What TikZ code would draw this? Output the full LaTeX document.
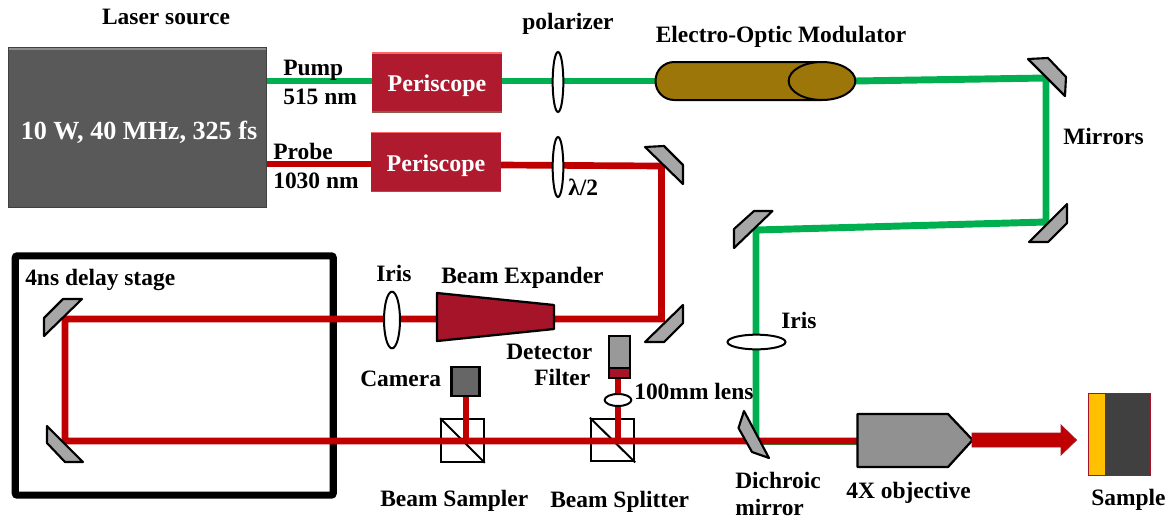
\documentclass[tikz,border=0pt]{standalone}
\usepackage{fontspec}
\setmainfont{Liberation Serif}
\definecolor{beamred}{HTML}{C00000}
\definecolor{beamgreen}{HTML}{00B050}
\definecolor{darkred}{HTML}{A61429}
\definecolor{periscopered}{HTML}{B01A2F}
\definecolor{laserfill}{HTML}{595959}
\definecolor{eomfill}{HTML}{9C7609}
\definecolor{mirrorfill}{HTML}{A6A6A6}
\definecolor{sampleorange}{HTML}{FFC000}
\definecolor{periscopeedge}{HTML}{8F5A4A}
\tikzset{
  lbl/.style={inner sep=0pt,font=\fontsize{17.6}{20}\bfseries\selectfont,anchor=mid,yshift=-4pt},
  lblw/.style={lbl,anchor=mid west},
  redbeam/.style={draw=beamred,line width=5pt,line join=miter},
  greenbeam/.style={draw=beamgreen,line width=5.2pt,line join=miter},
  mirrorshape/.style={draw=black,fill=mirrorfill,line width=1.6pt,line join=round},
  lens/.style={draw=black,fill=white,line width=1.5pt,ellipse,inner sep=0pt},
  cube/.style={draw=black,line width=1.5pt},
  periscopebox/.style={draw=none,fill=periscopered,inner sep=0pt,text=white,
     minimum width=97.5pt,minimum height=44pt,text height=16pt,text depth=2pt,
     font=\fontsize{18}{20}\bfseries\selectfont},
}
\usetikzlibrary{shapes.geometric}
\begin{document}
\begin{tikzpicture}[x=0.75pt,y=-0.75pt]
\useasboundingbox (0,0) rectangle (1172,519);
% coordinates for beams
\coordinate (pumpout) at (267,81);
\coordinate (pumpin) at (372,81);
\coordinate (pumpa) at (502,81);
\coordinate (eomin) at (657,81);
\coordinate (eomout) at (855,81);
\coordinate (mtr) at (1046,78);
\coordinate (mbr) at (1046,222);
\coordinate (mbl) at (756,230);
\coordinate (dich) at (756,441);
\coordinate (objin) at (857.5,441);
\coordinate (probeout) at (267,164);
\coordinate (probein) at (371,164);
\coordinate (probea) at (501,165);
\coordinate (mpt) at (661.5,166);
\coordinate (mpb) at (661.5,319);
\coordinate (dt) at (65,319);
\coordinate (db) at (65,441);
\coordinate (camb) at (466,441);
\coordinate (detb) at (618,441);
% delay stage
\node[draw=black,line width=5.3pt,rounded corners=1.5pt,minimum width=238.5pt,minimum height=179.5pt,inner sep=0pt] (delay) at (174.25,375.5) {};
% beams
\draw[greenbeam] (pumpout) -- (pumpin);
\draw[greenbeam] (pumpa) -- (eomin);
\draw[greenbeam] (eomout) -- (mtr) -- (mbr) -- (mbl) -- (dich);
\draw[draw=beamgreen,line width=0.9pt] (dich |- 0,444.5) -- (objin |- 0,444.5);
\draw[redbeam] (probeout) -- (probein);
% cubes
\node[cube,minimum width=32pt,minimum height=32pt,inner sep=0pt] (cubea) at (462.5,440.5) {};
\draw[cube] (cubea.north west) -- (cubea.south east);
\node[cube,minimum width=32.5pt,minimum height=32pt,inner sep=0pt] (cubeb) at (612.5,440) {};
\draw[cube] (cubeb.north west) -- (cubeb.south east);
\draw[redbeam] (probea) -- (mpt) -- (mpb) -- (dt) -- (db) -- (objin);
\draw[redbeam] (camb) -- (466,396);
\draw[redbeam,line width=4pt] (detb) -- (618,378);
% laser
\node[draw=black!75,line width=0.6pt,fill=laserfill,minimum width=194pt,minimum height=120.5pt,inner sep=0pt] (laser) at (137.5,127.5) {};
\draw[gray!90,line width=1pt] (9,49) -- (266,49);
\node[text=white,inner sep=0pt,font=\fontsize{19.6}{20}\bfseries\selectfont] (lasertext) at (139,132) {10 W, 40 MHz, 325 fs};
% periscopes
\node[periscopebox] (pera) at (437,82.5) {Periscope};
\node[periscopebox] (perb) at (436,162) {Periscope};
\draw[red!60!white,line width=0.9pt] (pera.north west) -- (pera.north east);
\draw[red!60!white,line width=0.9pt] (perb.north west) -- (perb.north east);
\draw[periscopeedge,line width=1.2pt] (pera.south west) -- (pera.south east);
\draw[periscopeedge,line width=1.2pt] (perb.south west) -- (perb.south east);
% lenses
\node[lens,minimum width=8pt,minimum height=45pt] (pol) at (558,82) {};
\node[lens,minimum width=8pt,minimum height=45pt] (hwp) at (558,167) {};
\node[lens,minimum width=12pt,minimum height=42.5pt] (irisa) at (392,320) {};
\node[lens,minimum width=43.5pt,minimum height=11pt] (irisb) at (756.5,342) {};
\node[lens,minimum width=20pt,minimum height=9pt] (lenshundred) at (618,400) {};
% EOM
\draw[draw=black,line width=1.5pt,fill=eomfill,rounded corners=14pt] (822,62) -- (655.5,62) -- (655.5,100) -- (822,100);
\node[draw=black,line width=1.5pt,fill=eomfill,ellipse,minimum width=50pt,minimum height=28.5pt,inner sep=0pt] (eomend) at (822,81) {};
% mirrors
\draw[mirrorshape] (1028,59) -- (1048,58) -- (1066,77) -- (1065,96) -- cycle;
\draw[mirrorshape] (645,147) -- (664,146) -- (683,165) -- (683,184) -- cycle;
\draw[mirrorshape] (1067,204) -- (1067,223) -- (1048,242) -- (1029,242) -- cycle;
\draw[mirrorshape] (772.5,211) -- (754,211) -- (734,229) -- (734,248) -- cycle;
\draw[mirrorshape] (683,305) -- (683,323) -- (664,342) -- (645,342) -- cycle;
\draw[mirrorshape] (82,299) -- (63,299) -- (44,318) -- (44,336) -- cycle;
\draw[mirrorshape] (47,426) -- (47,443) -- (65,462) -- (83,462) -- cycle;
\draw[mirrorshape] (744,411) -- (769,458) -- (752,452) -- (738.5,428) -- cycle;
% beam expander
\draw[draw=black,fill=darkred,line width=1.7pt,line join=round] (437,293) -- (554,305) -- (554,329) -- (437,341) -- cycle;
% camera and detector
\node[draw=black,fill=black!60,line width=1.6pt,minimum width=21pt,minimum height=21.5pt,inner sep=0pt] (camera) at (465.5,381.5) {};
\node[draw=black,fill=black!40,line width=1.4pt,minimum width=15.5pt,minimum height=31pt,inner sep=0pt] (detector) at (619.5,357) {};
\fill[darkred] (610,368.5) rectangle (629,377);
\draw[black,line width=1.4pt] (609,368) -- (630,368);
\draw[black,line width=1.4pt] (609,378) -- (630,378);
% objective
\draw[draw=black,fill=black!43,line width=1.7pt,line join=round] (857.5,414) -- (948,414) -- (972.6,440) -- (948,467) -- (857.5,467) -- cycle;
% arrow
\draw[draw=darkred,fill=beamred,line width=0.6pt] (972,433) -- (1061,433) -- (1061,425) -- (1076.5,440) -- (1061,455) -- (1061,447) -- (972,447) -- cycle;
% sample
\fill[fill=black!75] (1105,393) rectangle (1150,475);
\draw[draw=darkred,fill=sampleorange,line width=0.6pt] (1088,393) rectangle (1105,475);
\draw[draw=darkred,line width=0.6pt] (1105,393) -- (1150,393) -- (1150,475) -- (1105,475);
% labels
\node[lbl] (t1) at (166,16) {Laser source};
\node[lbl] (t2) at (568,21) {polarizer};
\node[lbl] (t3) at (781,34) {Electro-Optic Modulator};
\node[lblw] (t4) at (283,67) {Pump};
\node[lblw] (t5) at (283,96) {515 nm};
\node[lblw] (t6) at (273,151) {Probe};
\node[lblw] (t7) at (273,180) {1030 nm};
\node[lblw] (t8) at (568,187) {λ/2};
\node[lblw] (t9) at (1063,136) {Mirrors};
\node[lblw] (t10) at (25,277) {4ns delay stage};
\node[lblw] (t11) at (376,273) {Iris};
\node[lblw] (t12) at (441,275) {Beam Expander};
\node[lblw] (t13) at (506,351) {Detector};
\node[lblw] (t14) at (534,377) {Filter};
\node[lblw] (t15) at (360,378) {Camera};
\node[lblw] (t16) at (634,391) {100mm lens};
\node[lblw] (t17) at (781,320) {Iris};
\node[lblw] (t18) at (380,498) {Beam Sampler};
\node[lblw] (t19) at (550,499) {Beam Splitter};
\node[lblw] (t20) at (735,480) {Dichroic};
\node[lblw] (t21) at (735,507.5) {mirror};
\node[lblw] (t22) at (846,490) {4X objective};
\node[lblw] (t23) at (1091,497) {Sample};
\end{tikzpicture}
\end{document}
